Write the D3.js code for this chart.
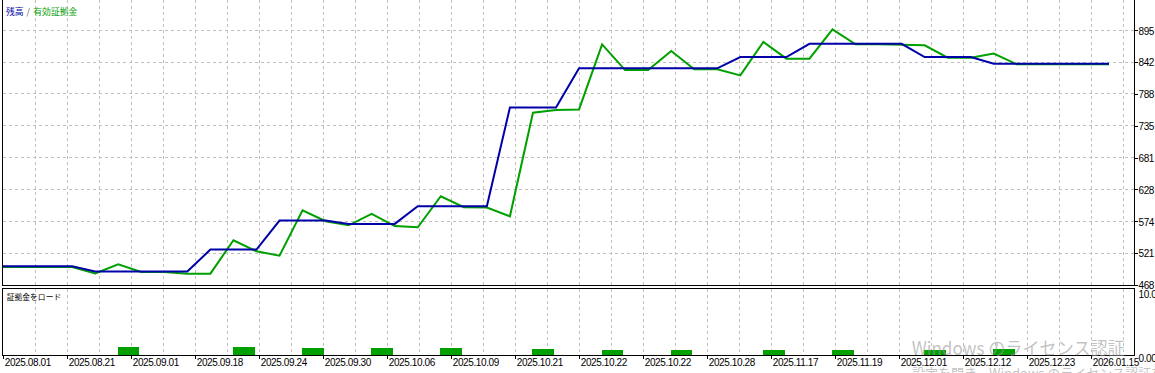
<!DOCTYPE html>
<html>
<head>
<meta charset="utf-8">
<script src="https://cdn.jsdelivr.net/npm/d3@7"></script>
<style>
  body { margin: 0; background: #fff; }
  svg { display: block; }
</style>
</head>
<body>
<div id="chart"></div>
<script>
var svgWidth = 1155;
var svgHeight = 373;

// balance / equity per deal
var balance = [499.1, 499.1, 499.1, 499.1, 490.7, 490.7, 490.7, 490.7, 490.7,
  527.2, 527.2, 527.2, 575.8, 575.8, 575.8, 570.3, 570.3, 570.3,
  599.8, 599.8, 599.8, 599.8, 765.5, 765.5, 765.5,
  831.0, 831.0, 831.0, 831.0, 831.0, 831.0, 831.0, 849.9, 849.9, 849.9,
  872.1, 872.1, 872.1, 872.1, 872.1, 849.9, 849.9, 849.9,
  838.8, 838.8, 838.8, 838.8, 838.8, 838.8];
var equity = [498.1, 498.1, 498.1, 498.1, 487.4, 502.5, 489.7, 489.7, 486.9, 486.9,
  542.8, 524.3, 517.1, 593.1, 574.7, 567.9, 587.1, 566.6, 564.6, 616.6,
  598.2, 597.6, 583.0, 756.6, 761.0, 762.1, 871.2, 828.1, 828.1, 860.0,
  829.3, 829.3, 819.2, 875.1, 847.2, 847.2, 896.4, 871.2, 871.2, 870.4,
  869.6, 848.9, 848.9, 855.6, 837.7, 837.7, 837.7, 837.7, 837.7];

// margin load (%) bars: deal index and value
var loadIndex = [5, 10, 13, 16, 19, 23, 26, 29, 33, 36, 40, 43];
var loadValue = [1.3, 1.3, 1.1, 1.1, 1.1, 0.97, 0.83, 0.83, 0.83, 0.83, 0.83, 0.98];

var dateLabels = ["2025.08.01", "2025.08.21", "2025.09.01", "2025.09.18", "2025.09.24",
  "2025.09.30", "2025.10.06", "2025.10.09", "2025.10.21", "2025.10.22", "2025.10.22",
  "2025.10.28", "2025.11.17", "2025.11.19", "2025.12.01", "2025.12.12", "2025.12.23",
  "2026.01.15"];
var priceTicks = [467.875, 521.25, 574.625, 628.0, 681.375, 734.75, 788.125, 841.5, 894.875];
var priceLabels = ["468", "521", "574", "628", "681", "735", "788", "842", "895"];
var loadTicks = [0, 10];
var loadLabels = ["0.00%", "10.00"];

var blue = "#0000a8";
var green = "#00a000";
var gridColor = "#c0c0c0";
var axisFont = "'Liberation Sans', Arial, sans-serif";
var cjkFont = "'Noto Sans CJK JP', sans-serif";

var left = 2.5, right = 1134.5;
var mainBottom = 285.5;
var lowTop = 288.5, lowBottom = 355.5;

var svg = d3.select("#chart")
  .append("svg")
  .attr("width", svgWidth)
  .attr("height", svgHeight);

svg.append("rect")
  .attr("width", svgWidth)
  .attr("height", svgHeight)
  .attr("fill", "#fff");

// scales
var xDeal = d3.scaleLinear()
  .domain([0, balance.length - 1])
  .range([3, 1109]);

var xLabel = d3.scaleLinear()
  .domain([0, dateLabels.length - 1])
  .range([3.3, 1091.3]);

var yPrice = d3.scaleLinear()
  .domain([priceTicks[0], priceTicks[priceTicks.length - 1]])
  .range([285, 30.2]);

var yLoad = d3.scaleLinear()
  .domain([0, 10])
  .range([355.3, 291.3]);

// grid
var halfStep = (xLabel(1) - xLabel(0)) / 2;
var gridX = d3.range(1, dateLabels.length * 2).map(function(j) {
  return xLabel(0) + halfStep * j;
});

var grid = svg.append("g")
  .attr("stroke", gridColor)
  .attr("stroke-dasharray", "3,3")
  .attr("shape-rendering", "crispEdges");

grid.selectAll(".vmain")
  .data(gridX)
  .enter()
  .append("line")
  .attr("x1", d => d).attr("x2", d => d)
  .attr("y1", 0).attr("y2", mainBottom);

grid.selectAll(".vlow")
  .data(gridX)
  .enter()
  .append("line")
  .attr("x1", d => d).attr("x2", d => d)
  .attr("y1", lowTop).attr("y2", lowBottom);

grid.selectAll(".h")
  .data(priceTicks.slice(1))
  .enter()
  .append("line")
  .attr("x1", left).attr("x2", right)
  .attr("y1", d => yPrice(d)).attr("y2", d => yPrice(d));

// margin load bars
var barW = xDeal(1) - xDeal(0) - 1.3;
svg.selectAll(".bar")
  .data(loadIndex)
  .enter()
  .append("rect")
  .attr("x", d => xDeal(d) - 0.5)
  .attr("width", barW)
  .attr("y", (d, i) => yLoad(loadValue[i]))
  .attr("height", (d, i) => yLoad(0) - yLoad(loadValue[i]))
  .attr("fill", green)
  .attr("shape-rendering", "crispEdges");

// lines
var line = d3.line()
  .x((d, i) => xDeal(i))
  .y(d => yPrice(d));

svg.append("path")
  .datum(equity)
  .attr("d", line)
  .attr("fill", "none")
  .attr("stroke", green)
  .attr("stroke-width", 2);

svg.append("path")
  .datum(balance)
  .attr("d", line)
  .attr("fill", "none")
  .attr("stroke", blue)
  .attr("stroke-width", 2);

// frames
svg.append("path")
  .attr("d", `M${left},-2V${mainBottom}H${right}V-2`)
  .attr("fill", "none")
  .attr("stroke", "#000")
  .attr("shape-rendering", "crispEdges");

svg.append("rect")
  .attr("x", left).attr("y", lowTop)
  .attr("width", right - left).attr("height", lowBottom - lowTop)
  .attr("fill", "none")
  .attr("stroke", "#000")
  .attr("shape-rendering", "crispEdges");

// right price axis
var priceAxis = d3.axisRight(yPrice)
  .tickValues(priceTicks)
  .tickFormat((d, i) => priceLabels[i])
  .tickSize(3)
  .tickPadding(1);

var pa = svg.append("g")
  .attr("transform", `translate(${right}, 0)`)
  .call(priceAxis);
pa.select(".domain").remove();
pa.selectAll("line").attr("shape-rendering", "crispEdges");
pa.selectAll("text")
  .attr("font-family", axisFont)
  .attr("font-size", "10px")
  .attr("letter-spacing", "-0.4px")
  .attr("fill", "#000")
  .attr("dy", "0.38em");

// right load axis
var loadAxis = d3.axisRight(yLoad)
  .tickValues(loadTicks)
  .tickFormat((d, i) => loadLabels[i])
  .tickSize(0)
  .tickPadding(4);

var la = svg.append("g")
  .attr("transform", `translate(${right}, 0)`)
  .call(loadAxis);
la.select(".domain").remove();
la.selectAll("text")
  .attr("font-family", axisFont)
  .attr("font-size", "10px")
  .attr("letter-spacing", "-0.4px")
  .attr("fill", "#000")
  .attr("dy", "0.6em");

// bottom date axis
var dateAxis = d3.axisBottom(xLabel)
  .tickValues(d3.range(dateLabels.length))
  .tickFormat(i => dateLabels[i])
  .tickSize(3);

var da = svg.append("g")
  .attr("transform", `translate(0, ${lowBottom})`)
  .call(dateAxis);
da.select(".domain").remove();
da.selectAll("line").attr("shape-rendering", "crispEdges");
da.selectAll("text")
  .attr("text-anchor", "start")
  .attr("x", 1)
  .attr("y", 3)
  .attr("dy", "0.71em")
  .attr("font-family", axisFont)
  .attr("font-size", "10px")
  .attr("letter-spacing", "-0.4px")
  .attr("fill", "#000");

// panel titles
var legend = svg.append("text")
  .attr("y", 14.5)
  .attr("font-family", cjkFont)
  .attr("font-size", "8.8px");
legend.append("tspan").attr("x", 6).attr("fill", blue).text("残高");
legend.append("tspan").attr("x", 26.5).attr("fill", "#555").text("/");
legend.append("tspan").attr("x", 33.3).attr("fill", green).text("有効証拠金");

svg.append("text")
  .attr("x", 6.7)
  .attr("y", 299.5)
  .attr("font-family", cjkFont)
  .attr("font-size", "7.8px")
  .attr("fill", "#000")
  .text("証拠金をロード");

// OS watermark visible over the picture
svg.append("text")
  .attr("x", 911.7)
  .attr("y", 355)
  .attr("font-family", cjkFont)
  .attr("font-size", "18px")
  .attr("textLength", 213)
  .attr("lengthAdjust", "spacingAndGlyphs")
  .attr("fill", "#999")
  .attr("fill-opacity", 0.6)
  .text("Windows のライセンス認証");

svg.append("text")
  .attr("x", 912)
  .attr("y", 378)
  .attr("font-family", cjkFont)
  .attr("font-size", "13px")
  .attr("fill", "#999")
  .attr("fill-opacity", 0.6)
  .text("設定を開き、Windows のライセンス認証を行ってください。");
</script>
</body>
</html>
